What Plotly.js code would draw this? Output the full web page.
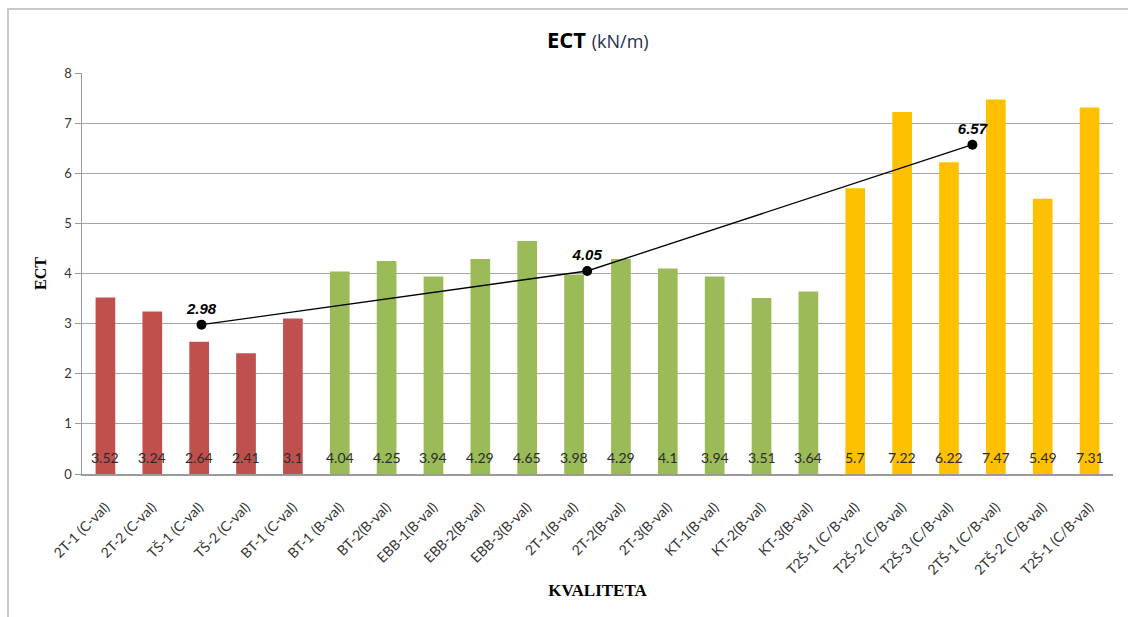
<!DOCTYPE html>
<html>
<head>
<meta charset="utf-8">
<script src="https://cdn.plot.ly/plotly-3.0.1.min.js"></script>
<style>
  html, body { margin: 0; padding: 0; background: #fff; }
  #chart { width: 1128px; height: 617px; }
  #frame { position: absolute; left: 7px; top: 8px; width: 1140px; height: 640px;
           border: 2px solid #c8c8c8; pointer-events: none; }
</style>
</head>
<body>
<div id="chart"></div>
<div id="frame"></div>
<script>
// ---- data ----
const categories = ["2T-1 (C-val)", "2T-2 (C-val)", "TŠ-1 (C-val)", "TŠ-2 (C-val)", "BT-1 (C-val)",
  "BT-1 (B-val)", "BT-2(B-val)", "EBB-1(B-val)", "EBB-2(B-val)", "EBB-3(B-val)", "2T-1(B-val)",
  "2T-2(B-val)", "2T-3(B-val)", "KT-1(B-val)", "KT-2(B-val)", "KT-3(B-val)",
  "T2Š-1 (C/B-val)", "T2Š-2 (C/B-val)", "T2Š-3 (C/B-val)", "2TŠ-1 (C/B-val)", "2TŠ-2 (C/B-val)", "T2Š-1 (C/B-val)"];
const values = [3.52, 3.24, 2.64, 2.41, 3.1, 4.04, 4.25, 3.94, 4.29, 4.65, 3.98, 4.29, 4.1, 3.94, 3.51, 3.64,
  5.7, 7.22, 6.22, 7.47, 5.49, 7.31];
const groups = ["C","C","C","C","C","B","B","B","B","B","B","B","B","B","B","B","CB","CB","CB","CB","CB","CB"];
// average line: positions along the category axis (category index units) and values
const avgPos = [2.05, 10.28, 18.5];
const avgValues = [2.98, 4.05, 6.57];

// ---- styles ----
const groupColor = { C: "#c0504d", B: "#9bbb59", CB: "#ffc000" };
const tickFont = { family: "Lato, 'Liberation Sans', sans-serif", size: 13, color: "#333" };
const xTickFont = { family: "Lato, 'Liberation Sans', sans-serif", size: 14, color: "#333" };
const idx = categories.map((_, i) => i);

const bars = {
  type: "bar", x: idx, y: values, width: 0.42,
  marker: { color: groups.map(g => groupColor[g]) },
  hoverinfo: "y", showlegend: false
};
const avgLine = {
  type: "scatter", mode: "lines+markers+text",
  x: avgPos, y: avgValues,
  line: { color: "#000", width: 1.3 },
  marker: { color: "#000", size: 10 },
  text: avgValues.map(v => v.toFixed(2)), textposition: "top center",
  textfont: { family: "'Liberation Sans', Arial, sans-serif", size: 15, color: "#000", weight: "bold", style: "italic" },
  showlegend: false, cliponaxis: false
};

const annotations = values.map((v, i) => ({
  x: i, y: 0, xref: "x", yref: "y", text: String(v), showarrow: false,
  yanchor: "bottom", yshift: 6,
  font: { family: "Lato, 'Liberation Sans', sans-serif", size: 14, color: "#2a2a2a" }
}));

const layout = {
  width: 1128, height: 617,
  margin: { l: 82, r: 15, t: 73, b: 143 },
  paper_bgcolor: "#fff", plot_bgcolor: "#fff",
  title: {
    text: "<b>ECT</b> <span style='font-size:18px;color:#1f3050'>(kN/m)</span>",
    font: { family: "'Open Sans', Lato, sans-serif", size: 22, color: "#000" },
    x: 0.53, xanchor: "center", y: 0.935, yanchor: "middle"
  },
  xaxis: {
    type: "linear", range: [-0.5, 21.5],
    tickmode: "array", tickvals: idx, ticktext: categories,
    tickangle: -45, tickfont: xTickFont, showgrid: false, zeroline: false,
    ticks: "outside", ticklen: 18, tickcolor: "rgba(0,0,0,0)",
    showline: true, linecolor: "#9a9a9a", linewidth: 1.5,
    title: { text: "<b>KVALITETA</b>", font: { family: "'Liberation Serif', 'DejaVu Serif', serif", size: 17, color: "#000" }, standoff: 7 },
    automargin: false
  },
  yaxis: {
    range: [0, 8], dtick: 1, tickfont: tickFont,
    showgrid: true, gridcolor: "#a6a6a6", gridwidth: 1,
    showline: true, linecolor: "#9a9a9a", linewidth: 1.5,
    ticks: "outside", ticklen: 6, tickcolor: "#9a9a9a",
    zeroline: false,
    title: { text: "<b>ECT</b>", font: { family: "'Liberation Serif', 'DejaVu Serif', serif", size: 16, color: "#000" }, standoff: 14 },
    automargin: false
  },
  annotations: annotations,
  font: { family: "Lato, sans-serif" }
};

Plotly.newPlot("chart", [bars, avgLine], layout, { displayModeBar: false, staticPlot: true });
</script>
</body>
</html>
